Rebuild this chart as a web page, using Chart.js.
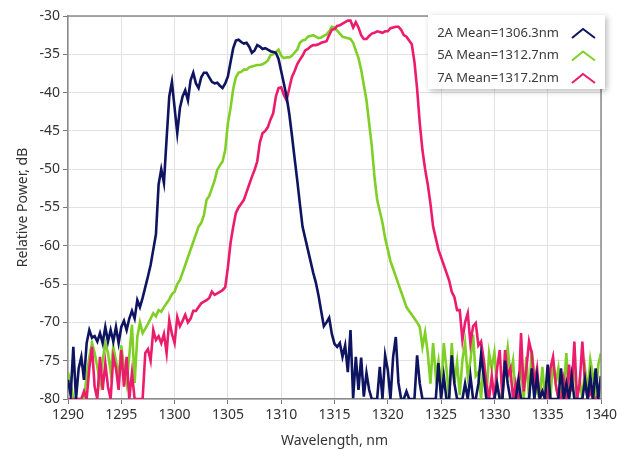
<!DOCTYPE html>
<html>
<head>
<meta charset="utf-8">
<script src="https://cdn.jsdelivr.net/npm/chart.js@4.4.1/dist/chart.umd.min.js"></script>
<style>
  html, body { margin: 0; padding: 0; background: #ffffff; }
  #wrap { position: relative; width: 627px; height: 456px; }
</style>
</head>
<body>
<div id="wrap"><canvas id="c" width="627" height="456"></canvas></div>
<script>
// ---- data (wavelength grid: 1290 .. 1340 nm, 0.25 nm steps) ----
const startNm = 1290;
const stepNm = 0.25;

const series2A = [
  -77.5, -79.5, -73.2, -80,
  -76, -74.5, -77.5, -72.7,
  -71, -72, -71.8, -72.5,
  -71.4, -72.7, -70.6, -72.5,
  -71, -72.5, -70.6, -72.7,
  -70.6, -69.8, -71, -69.5,
  -68.5, -69.5, -67.1, -68,
  -66.8, -65.4, -64, -62.5,
  -60.5, -58.5, -52, -50,
  -51.8, -46, -40.5, -38.6,
  -42, -45.3, -42, -40.5,
  -39.7, -41, -38.4, -37.4,
  -38.8, -39.4, -38, -37.4,
  -37.4, -38, -38.6, -38.8,
  -38.7, -39.1, -39.4, -38.8,
  -37.9, -36, -34.2, -33.2,
  -33.1, -33.4, -33.6, -33.5,
  -34, -34.8, -34.5, -33.8,
  -34, -34.3, -34.2, -34.4,
  -34.6, -34.7, -34.8, -35.6,
  -37.2, -38.8, -40.5, -42.7,
  -45.5, -48.5, -51.4, -54.5,
  -57.5, -59, -60.5, -62,
  -63.5, -64.8, -66.5, -68.5,
  -70.5, -70, -69.4, -71.5,
  -72.8, -73.2, -72.7, -74.5,
  -73, -76.5, -71, -79.9,
  -74.5, -78.8, -74.6, -79.7,
  -76.6, -78.8, -80, -80,
  -80, -75.8, -80, -74.3,
  -76.2, -80, -74.5, -71.9,
  -77.9, -80, -80, -79,
  -80, -80, -80, -74.3,
  -78, -80, -80, -80,
  -80, -80, -80, -75.3,
  -80, -77, -80, -80,
  -74.3, -78, -80, -80,
  -80, -78, -80, -77,
  -80, -80, -78, -74.2,
  -77, -80, -80, -80,
  -80, -78, -80, -80,
  -75, -78, -80, -80,
  -80, -77.5, -80, -80,
  -80, -80, -76, -80,
  -77, -80, -79, -80,
  -75.5, -80, -80, -80,
  -80, -76, -80, -78,
  -80, -77, -80, -80,
  -80, -80, -77.5, -80,
  -77, -80, -76, -80,
  -77
];

const series5A = [
  -76.5, -78, -80, -80,
  -80, -80, -80, -77,
  -74.5, -72.7, -74, -75.8,
  -77.9, -75, -72.7, -74,
  -76.5, -73.2, -75, -77.1,
  -73, -76, -78, -74.3,
  -70.3, -77.9, -71.9, -70,
  -71.4, -70.8, -70.2, -69.5,
  -68.8, -69.2, -68.4, -68.6,
  -68, -67.5, -67, -66.3,
  -66, -65, -64.5, -63.5,
  -62.5, -61.5, -60.5, -59.5,
  -58.5, -57.5, -57, -56,
  -54, -53.5, -52.5, -51.5,
  -50.1, -49.5, -49, -47.5,
  -44, -42, -39.5, -38,
  -37.4, -37.3, -37, -37,
  -36.7, -36.6, -36.5, -36.4,
  -36.4, -36.3, -36.1, -35.8,
  -35.1, -35, -34.7, -34.4,
  -35.2, -35.5, -35.4, -35.4,
  -35.2, -34.8, -34.4, -33.5,
  -33.2, -33.1, -32.7, -32.6,
  -32.5, -32.7, -32.9, -32.8,
  -32.6, -32.4, -32, -31.4,
  -31.5, -31.9, -32.3, -32.7,
  -32.8, -32.9, -33, -33.5,
  -34.5, -35.5, -37, -39,
  -41, -44, -47, -51,
  -54, -55.5, -57, -59,
  -60.5, -62, -63, -64,
  -65, -66, -67, -68,
  -68.5, -69, -69.5, -70,
  -70.6, -73.2, -71.3, -74,
  -78, -72.7, -77, -75,
  -79, -72.7, -76, -80,
  -72.7, -78, -75.2, -79.5,
  -74.9, -72.7, -77, -75,
  -71.6, -77, -76.5, -80,
  -75, -80, -74, -76,
  -73.9, -78, -80, -79,
  -76, -73.3, -77, -75,
  -80, -78, -76, -80,
  -74.5, -80, -73.6, -77,
  -79, -80, -75.8, -80,
  -77, -80, -75, -78,
  -76, -80, -79, -74,
  -80, -78, -76, -80,
  -77.5, -80, -76, -79,
  -74.9, -77, -80, -75.5,
  -74
];

const series7A = [
  -80, -80, -80, -80,
  -80, -80, -79, -80,
  -76, -73.2, -78.4, -80,
  -74.5, -78.8, -75.3, -78.4,
  -80, -74.5, -76, -78.8,
  -73.6, -78.4, -74.5, -80,
  -76.6, -80, -80, -80,
  -80, -74, -73.5, -75,
  -71, -72.3, -71.8, -72.7,
  -71.5, -74, -69.7, -71.5,
  -72.7, -69.3, -70.5, -69.8,
  -69, -70, -69.5, -68.5,
  -68.5, -68, -67.5, -67.3,
  -67.1, -66.8, -66, -66.4,
  -66.2, -66, -65.8, -65.4,
  -62.8, -59.6, -57.5, -55.7,
  -55, -54.5, -54, -53,
  -52, -51, -50.1, -49,
  -46.5, -45.3, -45, -44.5,
  -43.5, -42.7, -40.5, -39.4,
  -39.3, -40.3, -41, -39.5,
  -38, -37.2, -36.3, -35.7,
  -35.2, -34.5, -34.3, -34,
  -33.8, -33.8, -33.7, -33.5,
  -33.4, -33.3, -32.5, -31.8,
  -31.7, -31.3, -31.2, -31,
  -30.8, -30.6, -30.6, -31.5,
  -30.8, -31.5, -32.5, -33,
  -33, -32.6, -32.3, -32.2,
  -32, -32.1, -32.2, -32,
  -32, -31.6, -31.5, -31.4,
  -31.4, -31.8, -32.5, -32.7,
  -33.2, -33.7, -36, -39.5,
  -44, -47.5, -50, -52,
  -54.5, -57.5, -59, -60.5,
  -61.5, -62.5, -63.5, -64.5,
  -66, -66.7, -68.4, -68.4,
  -72.3, -70, -68.8, -72.7,
  -70.5, -70.1, -73, -72.5,
  -74.9, -78, -80, -77,
  -80, -76, -73.6, -80,
  -73.6, -77, -76, -80,
  -78, -80, -71.4, -79,
  -76, -72.5, -74, -78,
  -76, -80, -79, -80,
  -80, -76, -74.5, -78,
  -80, -80, -77.5, -80,
  -75.5, -79, -72.5, -80,
  -78, -72.5, -78, -80,
  -79, -80, -80, -79.5,
  -77
];

const seriesLabels = ['2A Mean=1306.3nm', '5A Mean=1312.7nm', '7A Mean=1317.2nm'];
const seriesColors = ['#0e1460', '#80cf26', '#ec1c6c'];
const xTitle = 'Wavelength, nm';
const yTitle = 'Relative Power, dB';

const wavelengths = series2A.map((_, i) => startNm + i * stepNm);
const toPoints = arr => arr.map((v, i) => ({ x: wavelengths[i], y: v }));

const FONT = "'Noto Sans', 'Open Sans', sans-serif";

const frame = {
  id: 'frame',
  afterDatasetsDraw(chart) {
    const { ctx, chartArea: a } = chart;
    ctx.save();
    ctx.strokeStyle = '#8a8a8a';
    ctx.lineWidth = 1.5;
    ctx.beginPath();
    ctx.moveTo(a.left, a.top); ctx.lineTo(a.right, a.top); ctx.lineTo(a.right, a.bottom);
    ctx.stroke();
    ctx.restore();
  }
};

const legendBox = {
  id: 'legendBox',
  afterDraw(chart) {
    const { ctx } = chart;
    const x = 428, y = 15, w = 177, h = 74;
    ctx.save();
    ctx.shadowColor = 'rgba(0,0,0,0.28)';
    ctx.shadowBlur = 6;
    ctx.shadowOffsetX = 2;
    ctx.shadowOffsetY = 2;
    ctx.fillStyle = '#ffffff';
    ctx.fillRect(x, y, w, h);
    ctx.restore();
    ctx.save();
    ctx.font = '13px ' + FONT;
    ctx.textAlign = 'right';
    ctx.textBaseline = 'middle';
    chart.data.datasets.forEach((ds, i) => {
      const cy = 33 + i * 22.5;
      ctx.fillStyle = '#3a3a3a';
      ctx.fillText(ds.label, 559, cy);
      ctx.strokeStyle = ds.borderColor;
      ctx.lineWidth = 2;
      ctx.beginPath();
      ctx.moveTo(572, cy + 5);
      ctx.lineTo(583, cy - 4);
      ctx.lineTo(595, cy + 5);
      ctx.stroke();
    });
    ctx.restore();
  }
};

const orders = [0, 2, 1];
const allSeries = [series2A, series5A, series7A];

new Chart(document.getElementById('c'), {
  type: 'line',
  data: {
    datasets: allSeries.map((s, i) => ({
      label: seriesLabels[i],
      data: toPoints(s),
      borderColor: seriesColors[i],
      backgroundColor: seriesColors[i],
      borderWidth: 2.6,
      pointRadius: 0,
      tension: 0,
      fill: false,
      order: orders[i]
    }))
  },
  options: {
    responsive: false,
    animation: false,
    layout: { padding: { left: 0, top: 16, right: 26, bottom: 0 } },
    plugins: { legend: { display: false }, tooltip: { enabled: false } },
    scales: {
      x: {
        type: 'linear',
        min: 1290, max: 1340,
        ticks: { stepSize: 5, color: '#333', font: { family: FONT, size: 14 }, padding: 3, callback: v => String(v) },
        grid: { color: '#e2e2e2', tickColor: '#777', tickLength: 5, lineWidth: 1 },
        border: { color: '#8a8a8a', width: 1.5 },
        title: { display: true, text: xTitle, color: '#333', font: { family: FONT, size: 14 }, padding: { top: 2, bottom: 7 } },
        afterFit(scale) { scale.height = 57; }
      },
      y: {
        min: -80, max: -30,
        ticks: { stepSize: 5, color: '#333', font: { family: FONT, size: 14 }, padding: 3 },
        grid: { color: '#e2e2e2', tickColor: '#777', tickLength: 5, lineWidth: 1 },
        border: { color: '#8a8a8a', width: 1.5 },
        title: { display: true, text: yTitle, color: '#333', font: { family: FONT, size: 14 }, padding: { top: 15, bottom: 0 } },
        afterFit(scale) { scale.width = 68; }
      }
    }
  },
  plugins: [frame, legendBox]
});
</script>
</body>
</html>
